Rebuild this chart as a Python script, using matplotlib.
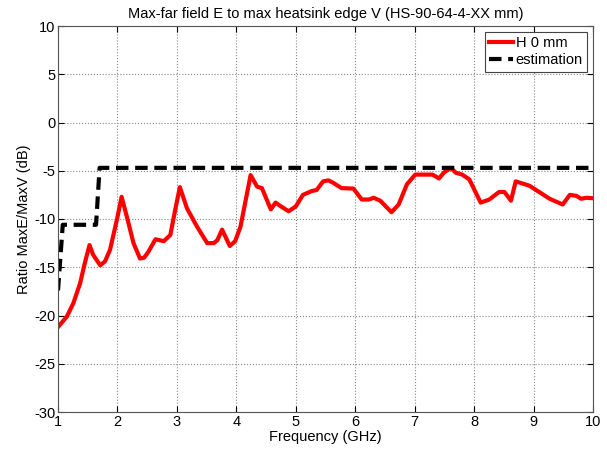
import matplotlib
matplotlib.use('Agg')
import matplotlib.pyplot as plt

plt.rcParams['font.family'] = ['Liberation Sans', 'DejaVu Sans']
plt.rcParams['axes.unicode_minus'] = False

freq_h0 = [1.00, 1.15, 1.26, 1.37, 1.45, 1.53, 1.59, 1.71, 1.79, 1.875, 1.99, 2.07,
           2.16, 2.27, 2.38, 2.45, 2.52, 2.64, 2.78, 2.89, 2.97, 3.05, 3.17, 3.34,
           3.51, 3.62, 3.68, 3.76, 3.89, 3.98, 4.07, 4.24, 4.35, 4.43, 4.58, 4.66,
           4.74, 4.88, 5.00, 5.12, 5.27, 5.35, 5.46, 5.55, 5.63, 5.77, 5.97, 6.11,
           6.23, 6.31, 6.42, 6.61, 6.73, 6.87, 7.01, 7.30, 7.41, 7.49, 7.61, 7.69,
           7.80, 7.92, 8.11, 8.25, 8.42, 8.51, 8.62, 8.70, 8.93, 9.27, 9.49, 9.61,
           9.72, 9.80, 9.89, 10.00]
ratio_h0 = [-21.2, -20.1, -18.7, -16.7, -14.6, -12.7, -13.7, -14.8, -14.4, -13.2, -10.1, -7.7,
            -9.8, -12.5, -14.1, -14.0, -13.4, -12.1, -12.3, -11.65, -9.1, -6.7, -8.9, -10.8,
            -12.5, -12.5, -12.2, -11.1, -12.8, -12.3, -10.8, -5.45, -6.65, -6.8, -9.0, -8.3,
            -8.65, -9.2, -8.7, -7.5, -7.1, -7.0, -6.1, -6.0, -6.25, -6.8, -6.85, -7.98,
            -7.98, -7.8, -8.1, -9.3, -8.5, -6.4, -5.4, -5.4, -5.8, -5.2, -4.7, -5.2,
            -5.4, -5.9, -8.3, -8.0, -7.2, -7.2, -8.1, -6.1, -6.55, -7.9, -8.5, -7.5,
            -7.6, -7.9, -7.8, -7.85]

freq_est = [1.00, 1.08, 1.64, 1.70, 10.00]
ratio_est = [-17.4, -10.6, -10.6, -4.7, -4.7]


def main():
    fig = plt.figure(figsize=(6.07, 4.49), dpi=100)
    ax = fig.add_axes([58 / 607, 1 - 412 / 449, 535 / 607, 386 / 449])

    ax.plot(freq_h0, ratio_h0, color='#ff0000', linewidth=3, label='H 0 mm',
            solid_joinstyle='round')
    ax.plot(freq_est, ratio_est, color='black', linewidth=3, linestyle=(0, (3, 1.6)),
            label='estimation')

    ax.set_xlim(1, 10)
    ax.set_ylim(-30, 10)
    ax.set_xticks(range(1, 11))
    ax.set_yticks(range(-30, 11, 5))
    ax.grid(True, color='#888888', linestyle=':', linewidth=0.8)
    ax.tick_params(direction='in', labelsize=10.5, length=4, top=True, right=True, pad=2)
    for s in ax.spines.values():
        s.set_color('#555555')
        s.set_linewidth(0.8)

    ax.set_xlabel('Frequency (GHz)', fontsize=10.5, labelpad=1)
    ax.set_ylabel('Ratio MaxE/MaxV (dB)', fontsize=10.5, labelpad=2)
    ax.set_title('Max-far field E to max heatsink edge V (HS-90-64-4-XX mm)', fontsize=10.5, pad=6)

    leg = ax.legend(loc='upper right', fontsize=10.5, handlelength=1.6, handletextpad=0.2,
                    borderaxespad=0.4, fancybox=False, framealpha=1, borderpad=0.3,
                    labelspacing=0.2)
    leg.get_frame().set_edgecolor('#444444')
    leg.get_frame().set_linewidth(0.8)

    fig.savefig('out.png', dpi=100)


if __name__ == '__main__':
    main()
